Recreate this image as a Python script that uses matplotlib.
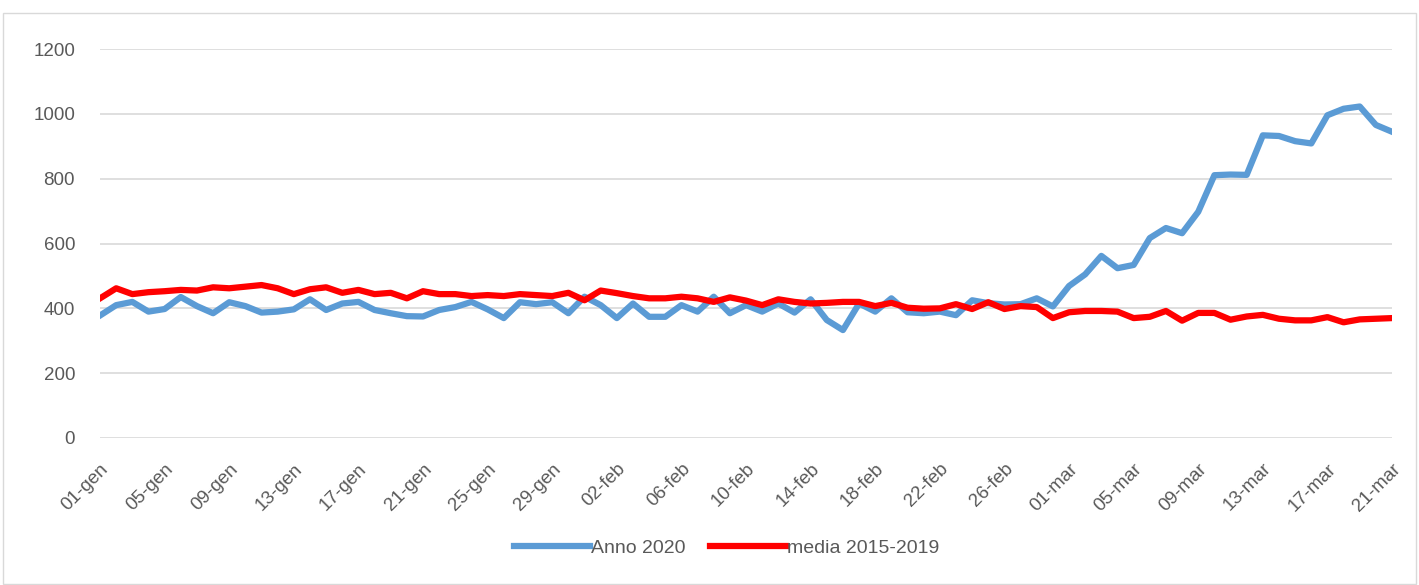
import matplotlib.pyplot as plt
from matplotlib.patches import Rectangle
import numpy as np

# giorni dal 01-gen al 21-mar 2020 (anno bisestile)
giorni = [f"{d:02d}-gen" for d in range(1, 32)] + \
         [f"{d:02d}-feb" for d in range(1, 30)] + \
         [f"{d:02d}-mar" for d in range(1, 22)]

anno_2020 = [378, 410, 420, 390, 398, 435, 407, 385, 419, 407,
             387, 390, 397, 428, 395, 415, 420, 395, 385, 376,
             375, 395, 404, 420, 397, 370, 419, 413, 419, 385,
             436, 410, 370, 415, 374, 374, 410, 390, 436, 385,
             410, 390, 415, 387, 428, 364, 333, 415, 390, 431,
             388, 385, 390, 379, 425, 416, 412, 413, 431, 406,
             469, 505, 562, 524, 534, 617, 648, 632, 698, 811,
             813, 812, 934, 932, 916, 909, 996, 1016, 1023, 966,
             945]

media_2015_2019 = [431, 462, 444, 450, 453, 457, 455, 465, 462, 467,
                   472, 462, 444, 459, 465, 448, 457, 444, 448, 431,
                   453, 444, 444, 438, 441, 438, 444, 441, 438, 448,
                   425, 455, 447, 438, 431, 431, 436, 431, 420, 434,
                   424, 410, 428, 420, 415, 417, 420, 420, 407, 417,
                   402, 399, 400, 413, 398, 419, 398, 407, 404, 370,
                   388, 392, 392, 390, 370, 374, 392, 362, 386, 386,
                   365, 375, 380, 368, 363, 363, 373, 357, 366, 368,
                   370]

plt.rcParams['font.family'] = ['Liberation Sans', 'DejaVu Sans']

fig = plt.figure(figsize=(14.19, 5.85), dpi=100)
ax = fig.add_axes([0.0705, 0.2513, 0.9105, 0.6647])

x = np.arange(len(giorni))
ax.plot(x, anno_2020, color='#5B9BD5', lw=4.5, label='Anno 2020', solid_joinstyle='round')
ax.plot(x, media_2015_2019, color='#FF0000', lw=4.5, label='media 2015-2019', solid_joinstyle='round')

ax.set_xlim(0, len(giorni) - 1)
ax.set_ylim(0, 1200)
ax.set_yticks(range(0, 1201, 200))
ax.set_xticks(x[::4])
ax.set_xticklabels(giorni[::4], rotation=45, ha='right', rotation_mode='anchor')
ax.tick_params(axis='both', length=0, labelsize=13.5, colors='#595959')
ax.tick_params(axis='x', pad=16)
ax.tick_params(axis='y', pad=18)
ax.grid(axis='y', color='#D9D9D9', lw=1.2)
ax.set_axisbelow(True)
for s in ax.spines.values():
    s.set_visible(False)

fig.legend(loc='center', bbox_to_anchor=(0.512, 0.063), ncol=2, frameon=False,
           fontsize=14, handlelength=3.9, columnspacing=1.3, handletextpad=0.05,
           labelcolor='#595959')

# bordo dell'area del grafico
fig.patches.append(Rectangle((0.002, 0.002), 0.996, 0.976, transform=fig.transFigure,
                             fill=False, edgecolor='#D9D9D9', lw=1))

plt.savefig('out.png', dpi=100)
